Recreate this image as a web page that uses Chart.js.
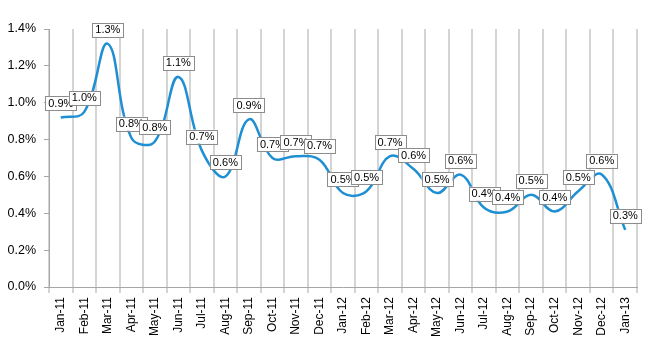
<!DOCTYPE html>
<html>
<head>
<meta charset="utf-8">
<script src="https://cdn.jsdelivr.net/npm/chart.js@4/dist/chart.umd.min.js"></script>
<style>
    html, body { margin: 0; padding: 0; background: #fff; }
    #wrap { width: 650px; height: 350px; }
</style>
</head>
<body>
<div id="wrap"><canvas id="rateChart"></canvas></div>
<script>
const months = ['Jan-11', 'Feb-11', 'Mar-11', 'Apr-11', 'May-11', 'Jun-11', 'Jul-11', 'Aug-11', 'Sep-11',
    'Oct-11', 'Nov-11', 'Dec-11', 'Jan-12', 'Feb-12', 'Mar-12', 'Apr-12', 'May-12', 'Jun-12', 'Jul-12',
    'Aug-12', 'Sep-12', 'Oct-12', 'Nov-12', 'Dec-12', 'Jan-13'];

const rates = [0.92, 0.95, 1.32, 0.81, 0.79, 1.14, 0.74, 0.60, 0.91, 0.70, 0.71, 0.69, 0.51, 0.52, 0.71,
    0.64, 0.51, 0.61, 0.43, 0.41, 0.50, 0.41, 0.52, 0.61, 0.31];

const yTicks = [0, 0.2, 0.4, 0.6, 0.8, 1.0, 1.2, 1.4];

const fontFamily = '"Liberation Sans", Arial, sans-serif';

// boxed value labels above each point
const valueLabels = {
    id: 'valueLabels',
    afterDatasetsDraw(chart) {
        const ctx = chart.ctx;
        const meta = chart.getDatasetMeta(0);

        ctx.save();
        ctx.font = '11px ' + fontFamily;
        ctx.textAlign = 'center';
        ctx.textBaseline = 'middle';

        meta.data.forEach((point, i) => {
            const text = (Math.round(rates[i] * 10) / 10).toFixed(1) + '%';
            const w = ctx.measureText(text).width + 6;
            const h = 14;
            const x = point.x;
            const bottom = point.y - 7;

            ctx.fillStyle = '#ffffff';
            ctx.fillRect(x - w / 2, bottom - h, w, h);
            ctx.strokeStyle = '#8c8c8c';
            ctx.lineWidth = 1;
            ctx.strokeRect(Math.round(x - w / 2) + 0.5, Math.round(bottom - h) + 0.5, Math.round(w), h);
            ctx.fillStyle = '#000000';
            ctx.fillText(text, x, bottom - h / 2 + 0.5);
        });

        ctx.restore();
    }
};

new Chart(document.querySelector('#rateChart'), {
    type: 'line',
    data: {
        labels: months,
        datasets: [{
            data: rates,
            borderColor: '#1e8fd2',
            borderWidth: 2.5,
            pointRadius: 0,
            tension: 0.4,
            fill: false
        }]
    },
    options: {
        responsive: true,
        maintainAspectRatio: false,
        animation: false,
        layout: {
            padding: {top: 29, right: 13, left: 0, bottom: 0}
        },
        plugins: {
            legend: {display: false},
            tooltip: {enabled: false}
        },
        scales: {
            x: {
                offset: true,
                grid: {
                    offset: true,
                    color: '#d4d4d4',
                    lineWidth: 2,
                    tickLength: 6,
                    drawOnChartArea: true
                },
                border: {color: '#a6a6a6', width: 1},
                ticks: {
                    color: '#000',
                    font: {family: fontFamily, size: 12},
                    minRotation: 90,
                    maxRotation: 90,
                    autoSkip: false,
                    padding: 4
                },
                afterFit(scale) {
                    scale.height = 63;
                }
            },
            y: {
                min: 0,
                max: 1.4,
                afterBuildTicks(scale) {
                    scale.ticks = yTicks.map(v => ({value: v}));
                },
                grid: {
                    drawOnChartArea: false,
                    color: '#a6a6a6',
                    tickLength: 5
                },
                border: {color: '#a6a6a6', width: 1},
                ticks: {
                    color: '#000',
                    font: {family: fontFamily, size: 12.5},
                    padding: 8,
                    callback: v => v.toFixed(1) + '%'
                },
                afterFit(scale) {
                    scale.width = 49;
                }
            }
        }
    },
    plugins: [valueLabels]
});
</script>
</body>
</html>
